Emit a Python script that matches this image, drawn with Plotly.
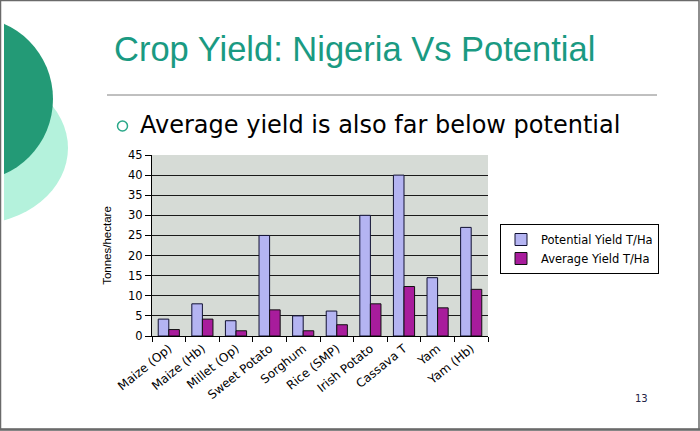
import plotly.graph_objects as go

categories = ["Maize (Op)", "Maize (Hb)", "Millet (Op)", "Sweet Potato", "Sorghum",
              "Rice (SMP)", "Irish Potato", "Cassava T", "Yam", "Yam (Hb)"]
potential = [4.2, 8.0, 3.8, 25.0, 5.0, 6.2, 30.0, 40.0, 14.5, 27.0]
average = [1.6, 4.2, 1.3, 6.5, 1.3, 2.8, 8.0, 12.3, 7.0, 11.6]
y_ticks = [0, 5, 10, 15, 20, 25, 30, 35, 40, 45]

W_FIG, H_FIG = 700, 431
L, R, T, B = 152, 488, 155, 336
PW, PH = R - L, B - T


def px(x):
    return (x - L) / PW


def py(y):
    return (B - y) / PH


FONT = "Liberation Sans, Arial, sans-serif"
WIDE = "DejaVu Sans, Verdana, sans-serif"

fig = go.Figure()
fig.add_trace(go.Bar(x=categories, y=potential, name="Potential Yield T/Ha",
                     marker=dict(color="#b4b4f2", line=dict(color="#111133", width=1))))
fig.add_trace(go.Bar(x=categories, y=average, name="Average Yield T/Ha",
                     marker=dict(color="#a81c9c", line=dict(color="#111111", width=1))))

shapes = []
# decorative ellipses on the left
shapes.append(dict(type="circle", xref="paper", yref="paper", layer="below",
                   x0=px(-118), x1=px(68), y0=py(224), y1=py(72),
                   fillcolor="#b4f2dc", line=dict(width=0)))
shapes.append(dict(type="circle", xref="paper", yref="paper", layer="below",
                   x0=px(-110), x1=px(53), y0=py(181), y1=py(17),
                   fillcolor="#239a76", line=dict(width=0)))
# white strip at far left
shapes.append(dict(type="rect", xref="paper", yref="paper", layer="below",
                   x0=px(-5), x1=px(4), y0=py(440), y1=py(-5),
                   fillcolor="white", line=dict(width=0)))
# title rule
shapes.append(dict(type="line", xref="paper", yref="paper",
                   x0=px(107), x1=px(657), y0=py(95), y1=py(95),
                   line=dict(color="#808080", width=1)))
# bullet ring
shapes.append(dict(type="circle", xref="paper", yref="paper",
                   x0=px(117.5), x1=px(127.5), y0=py(131), y1=py(121),
                   line=dict(color="#2aa889", width=1.5)))
# slide border
shapes.append(dict(type="rect", xref="paper", yref="paper",
                   x0=px(0.5), x1=px(699), y0=py(429.5), y1=py(0.5),
                   line=dict(color="#6a6a6a", width=1.5)))
shapes.append(dict(type="line", xref="paper", yref="paper",
                   x0=px(0), x1=px(700), y0=py(429.5), y1=py(429.5),
                   line=dict(color="#6a6a6a", width=2.5)))

annotations = [
    dict(text="Crop Yield: Nigeria Vs Potential", xref="paper", yref="paper",
         x=px(112), y=py(49), xanchor="left", yanchor="middle", showarrow=False,
         font=dict(family=FONT, size=34.5, color="#1a9a82")),
    dict(text="Average yield is also far below potential", xref="paper", yref="paper",
         x=px(138), y=py(125), xanchor="left", yanchor="middle", showarrow=False,
         font=dict(family=WIDE, size=24, color="#000000")),
    dict(text="13", xref="paper", yref="paper",
         x=px(641), y=py(398), xanchor="center", yanchor="middle", showarrow=False,
         font=dict(family=WIDE, size=10, color="#222244")),
]

fig.update_layout(
    width=W_FIG, height=H_FIG,
    margin=dict(l=L, r=W_FIG - R, t=T, b=H_FIG - B, pad=0),
    paper_bgcolor="white", plot_bgcolor="#d6dbd6",
    barmode="group", bargap=0.37, bargroupgap=0,
    font=dict(family=WIDE, size=11, color="#000000"),
    shapes=shapes, annotations=annotations,
    legend=dict(x=px(500), y=py(224), xanchor="left", yanchor="top",
                bordercolor="#000000", borderwidth=1, bgcolor="white",
                font=dict(family=WIDE, size=11.5), tracegroupgap=0,
                itemwidth=30),
    showlegend=True,
)
fig.update_xaxes(showline=True, linecolor="#000000", linewidth=1, mirror=False,
                 ticks="outside", ticklen=5, tickcolor="#000000", tickson="boundaries",
                 tickangle=-39, tickfont=dict(family=WIDE, size=12), showgrid=False)
fig.update_yaxes(range=[0, 45], tickvals=y_ticks, showline=True, linecolor="#000000",
                 linewidth=1, ticks="outside", ticklen=6, tickcolor="#000000",
                 showgrid=True, gridcolor="#1a1a1a", gridwidth=1, zeroline=False,
                 tickfont=dict(family=WIDE, size=11.5),
                 title=dict(text="Tonnes/hectare", font=dict(family=FONT, size=11.5),
                            standoff=14))

fig.write_html("out.html")
